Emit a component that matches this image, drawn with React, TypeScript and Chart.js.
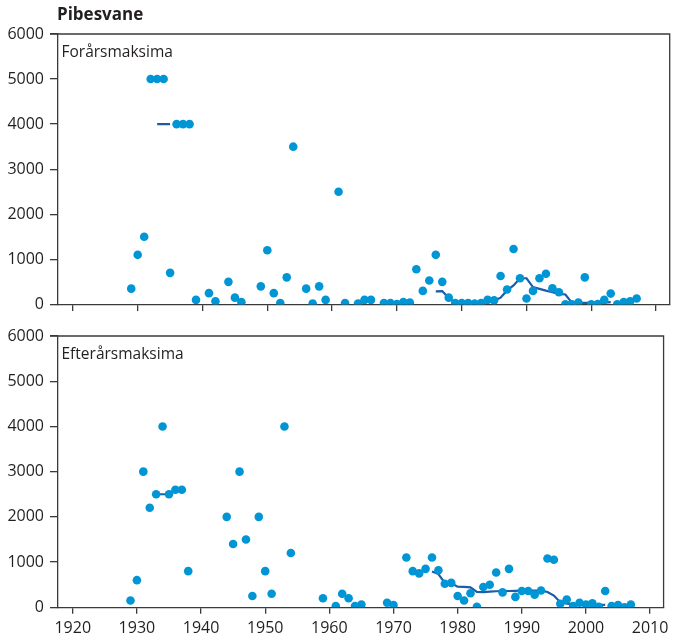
import React, { useEffect, useRef } from "react";
import { Chart, registerables } from "chart.js";
Chart.register(...registerables);

const TITLE = "Pibesvane";
const LABEL_SPRING = "Forårsmaksima";
const LABEL_AUTUMN = "Efterårsmaksima";

const X_TICKS = [1920, 1930, 1940, 1950, 1960, 1970, 1980, 1990, 2000, 2010];
const Y_TICKS = [0, 1000, 2000, 3000, 4000, 5000, 6000];

const springYears = [
  1929, 1930, 1931, 1932, 1933, 1934, 1935, 1936, 1937, 1938, 1939, 1941, 1942, 1944, 1945, 1946,
  1949, 1950, 1951, 1952, 1953, 1954, 1956, 1957, 1958, 1959, 1961, 1962, 1964, 1965, 1966, 1968,
  1969, 1970, 1971, 1972, 1973, 1974, 1975, 1976, 1977, 1978, 1979, 1980, 1981, 1982, 1983, 1984,
  1985, 1986, 1987, 1988, 1989, 1990, 1991, 1992, 1993, 1994, 1995, 1996, 1997, 1998, 1999, 2000,
  2001, 2002, 2003, 2004, 2005, 2006, 2007,
];
const springValues = [
  350, 1100, 1500, 5000, 5000, 5000, 700, 4000, 4000, 4000, 100, 250, 70, 500, 150, 50,
  400, 1200, 250, 30, 600, 3500, 350, 20, 400, 100, 2500, 30, 20, 100, 100, 30,
  30, 10, 50, 40, 780, 300, 530, 1100, 500, 150, 30, 30, 30, 20, 30, 100,
  90, 630, 330, 1230, 580, 130, 300, 580, 680, 360, 270, 0, 0, 40, 600, 0,
  10, 100, 240, 0, 50, 70, 130,
];
const springTrendA_Years = [1933, 1934, 1935];
const springTrendA_Values = [4000, 4000, 4000];
const springTrendB_Years = [
  1976, 1977, 1978, 1979, 1980, 1981, 1982, 1983, 1984, 1985, 1986, 1987, 1988, 1989,
  1990, 1991, 1992, 1993, 1994, 1995, 1996, 1997, 1998, 1999, 2000, 2001, 2002, 2003,
];
const springTrendB_Values = [
  290, 295, 140, 40, 35, 35, 35, 35, 50, 80, 150, 310, 420, 580,
  580, 385, 345, 305, 270, 235, 220, 40, 35, 35, 35, 35, 40, 50,
];

const autumnYears = [
  1929, 1930, 1931, 1932, 1933, 1934, 1935, 1936, 1937, 1938, 1944, 1945, 1946, 1947, 1948, 1949,
  1950, 1951, 1953, 1954, 1959, 1961, 1962, 1963, 1964, 1965, 1969, 1970, 1972, 1973, 1974, 1975,
  1976, 1977, 1978, 1979, 1980, 1981, 1982, 1983, 1984, 1985, 1986, 1987, 1988, 1989, 1990, 1991,
  1992, 1993, 1994, 1995, 1996, 1997, 1998, 1999, 2000, 2001, 2002, 2003, 2004, 2005, 2006, 2007,
];
const autumnValues = [
  150, 600, 3000, 2200, 2500, 4000, 2500, 2600, 2600, 800, 2000, 1400, 3000, 1500, 250, 2000,
  800, 300, 4000, 1200, 200, 30, 300, 200, 30, 60, 100, 50, 1100, 800, 750, 850,
  1100, 820, 520, 540, 250, 150, 310, 10, 450, 500, 770, 330, 850, 230, 360, 360,
  280, 370, 1080, 1050, 80, 170, 30, 100, 60, 90, 10, 360, 30, 50, 0, 60,
];
const autumnTrendA_Years = [1933, 1934, 1935];
const autumnTrendA_Values = [2500, 2500, 2500];
const autumnTrendB_Years = [
  1976, 1977, 1978, 1979, 1980, 1981, 1982, 1983, 1984, 1985, 1986, 1987, 1988, 1989,
  1990, 1991, 1992, 1993, 1994, 1995, 1996, 1997, 1998, 1999, 2000, 2001, 2002, 2003,
];
const autumnTrendB_Values = [
  790, 735, 540, 530, 455, 450, 440, 340, 335, 345, 355, 360, 360, 365,
  370, 370, 370, 370, 340, 260, 110, 80, 70, 65, 60, 60, 55, 55,
];

const FONT = "'Open Sans', 'DejaVu Sans', sans-serif";
const AXIS_COLOR = "#3a3a3a";
const TEXT_COLOR = "#231f20";
const DOT_COLOR = "#0096d6";
const LINE_COLOR = "#1a5ca8";

const pts = (xs: number[], ys: number[]) => xs.map((x, i) => ({ x, y: ys[i] }));

type PanelCfg = {
  years: number[];
  values: number[];
  trends: [number[], number[]][];
  label: string;
  title?: string;
  showXLabels: boolean;
  padTop: number;
  xHeight: number;
};

function makeChart(canvas: HTMLCanvasElement, cfg: PanelCfg) {
  const framePlugin = {
    id: "frame",
    afterDraw(chart: any) {
      const { ctx, chartArea: a } = chart;
      ctx.save();
      ctx.strokeStyle = AXIS_COLOR;
      ctx.lineWidth = 1.3;
      ctx.beginPath();
      ctx.moveTo(a.left - 8, a.top);
      ctx.lineTo(a.right, a.top);
      ctx.lineTo(a.right, a.bottom);
      ctx.stroke();
      ctx.fillStyle = TEXT_COLOR;
      ctx.textBaseline = "alphabetic";
      ctx.textAlign = "left";
      ctx.font = `15.5px ${FONT}`;
      ctx.fillText(cfg.label, a.left + 3.5, a.top + 23);
      if (cfg.title) {
        ctx.font = `bold 17px ${FONT}`;
        ctx.fillText(cfg.title, a.left - 1, a.top - 14.5);
      }
      ctx.restore();
    },
  };

  const datasets: any[] = [
    {
      label: "points",
      data: pts(cfg.years, cfg.values),
      pointRadius: 4.3,
      pointHoverRadius: 4.3,
      pointBackgroundColor: DOT_COLOR,
      pointBorderWidth: 0,
      showLine: false,
    },
  ];
  cfg.trends.forEach(([xs, ys], i) => {
    datasets.push({
      label: "trend" + i,
      data: pts(xs, ys),
      showLine: true,
      pointRadius: 0,
      borderColor: LINE_COLOR,
      borderWidth: 2.2,
      tension: 0,
      fill: false,
    });
  });

  return new Chart(canvas, {
    type: "scatter",
    data: { datasets },
    plugins: [framePlugin],
    options: {
      responsive: false,
      animation: false,
      devicePixelRatio: 1,
      layout: { padding: { top: cfg.padTop, right: 4, left: 0, bottom: 0 } },
      plugins: { legend: { display: false }, tooltip: { enabled: false }, title: { display: false } },
      scales: {
        x: {
          type: "linear",
          min: 1917.7,
          max: 2012.1,
          afterBuildTicks: (s: any) => {
            s.ticks = X_TICKS.map((v) => ({ value: v }));
          },
          afterFit: (s: any) => {
            s.height = cfg.xHeight;
          },
          border: { color: AXIS_COLOR, width: 1.3 },
          grid: { drawOnChartArea: false, drawTicks: true, tickLength: 6.5, color: AXIS_COLOR, lineWidth: 1.3 },
          ticks: {
            display: cfg.showXLabels,
            padding: 5.5,
            color: TEXT_COLOR,
            font: { family: FONT, size: 16 },
            maxRotation: 0,
            autoSkip: false,
            callback: (v: any) => String(v),
          },
        },
        y: {
          type: "linear",
          min: 0,
          max: 6000,
          afterBuildTicks: (s: any) => {
            s.ticks = Y_TICKS.map((v) => ({ value: v }));
          },
          afterFit: (s: any) => {
            s.width = 58;
          },
          border: { color: AXIS_COLOR, width: 1.3 },
          grid: { drawOnChartArea: false, drawTicks: true, tickLength: 8, color: AXIS_COLOR, lineWidth: 1.3 },
          ticks: {
            padding: 6,
            color: TEXT_COLOR,
            font: { family: FONT, size: 16 },
            autoSkip: false,
            callback: (v: any) => String(v),
          },
        },
      },
    } as any,
  });
}

export default function App() {
  const topRef = useRef<HTMLCanvasElement>(null);
  const botRef = useRef<HTMLCanvasElement>(null);

  useEffect(() => {
    const c1 = makeChart(topRef.current!, {
      years: springYears,
      values: springValues,
      trends: [
        [springTrendA_Years, springTrendA_Values],
        [springTrendB_Years, springTrendB_Values],
      ],
      label: LABEL_SPRING,
      title: TITLE,
      showXLabels: false,
      padTop: 34,
      xHeight: 14.5,
    });
    const c2 = makeChart(botRef.current!, {
      years: autumnYears,
      values: autumnValues,
      trends: [
        [autumnTrendA_Years, autumnTrendA_Values],
        [autumnTrendB_Years, autumnTrendB_Values],
      ],
      label: LABEL_AUTUMN,
      showXLabels: true,
      padTop: 16,
      xHeight: 31.7,
    });
    return () => {
      c1.destroy();
      c2.destroy();
    };
  }, []);

  return (
    <div style={{ position: "absolute", left: 0, top: 0, width: 674, height: 639, background: "#fff" }}>
      <canvas ref={topRef} width={674} height={320} style={{ position: "absolute", left: 0, top: 0, width: 674, height: 320 }} />
      <canvas ref={botRef} width={674} height={319} style={{ position: "absolute", left: 0, top: 320, width: 674, height: 319 }} />
    </div>
  );
}
